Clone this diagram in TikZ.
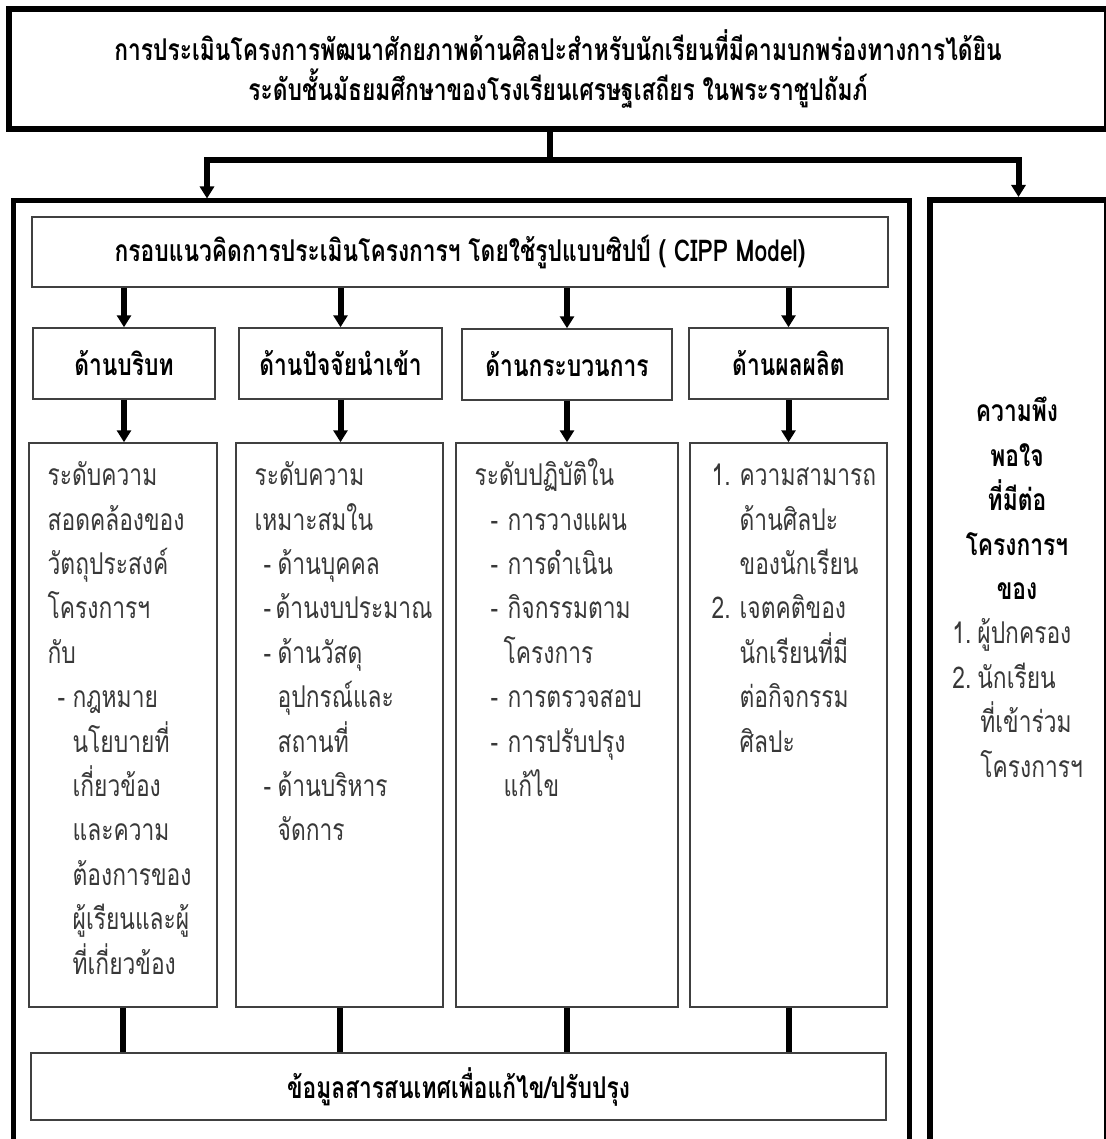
\documentclass[tikz,border=0pt]{standalone}
\usepackage{fontspec}
\setmainfont[Script=Thai, FakeStretch=0.76]{Loma}
\usetikzlibrary{calc,arrows.meta}

\newcommand{\dsh}[2]{\hspace*{#1}\makebox[#2][l]{-}}

\begin{document}
\begin{tikzpicture}[x=0.5pt, y=-0.5pt,
  thickbox/.style={draw, rectangle, inner sep=0pt},
  thinbox/.style={draw=black!75, line width=0.75pt, rectangle, inner sep=0pt, font=\fontsize{15}{20}\selectfont\bfseries},
  bodytxt/.style={font=\fontsize{15}{22.2}\selectfont, text=black!78, align=left, anchor=north west, inner sep=0pt},
  arr/.style={line width=3pt, -{Triangle[width=7pt,length=6pt]}},
  link/.style={line width=3pt}]
			\useasboundingbox (0,0) rectangle (1106,1139);

			\node[thickbox, line width=3pt, minimum width=549pt, minimum height=59.75pt, align=center, font=\fontsize{15}{20}\selectfont\bfseries] (title) at (558,69.25) {การประเมินโครงการพัฒนาศักยภาพด้านศิลปะสำหรับนักเรียนที่มีคามบกพร่องทางการได้ยิน\\ระดับชั้นมัธยมศึกษาของโรงเรียนเศรษฐเสถียร ในพระราชูปถัมภ์};

			\node[thickbox, line width=2.5pt, minimum width=447.75pt, minimum height=480pt] (mainbox) at (461.25,681) {};
			\node[thickbox, line width=3pt, minimum width=88.5pt, minimum height=480.5pt] (rbox) at (1018.5,680.5) {};

			\coordinate (split) at (550,160);
			\coordinate (lfork) at (207,160);

			\node[thinbox, minimum width=428pt, minimum height=35pt] (frame) at (460,252) {กรอบแนวคิดการประเมินโครงการฯ โดยใช้รูปแบบซิปป์ ( CIPP Model)};

			\node[thinbox, minimum width=91pt, minimum height=35.5pt] (h1) at (124,363.5) {ด้านบริบท};
			\node[thinbox, minimum width=101.5pt, minimum height=35.5pt] (h2) at (340.5,363.5) {ด้านปัจจัยนำเข้า};
			\node[thinbox, minimum width=105pt, minimum height=35.5pt] (h3) at (567,364.5) {ด้านกระบวนการ};
			\node[thinbox, minimum width=99.5pt, minimum height=35.5pt] (h4) at (788.5,363.5) {ด้านผลผลิต};

			\node[thinbox, minimum width=94pt, minimum height=282pt] (c1) at (123,725) {};
			\node[thinbox, minimum width=103.5pt, minimum height=282pt] (c2) at (339.5,725) {};
			\node[thinbox, minimum width=111pt, minimum height=282pt] (c3) at (567,725) {};
			\node[thinbox, minimum width=98.5pt, minimum height=282pt] (c4) at (788.5,725) {};

			\node[thinbox, minimum width=427.5pt, minimum height=33.5pt] (info) at (458.5,1086.5) {ข้อมูลสารสนเทศเพื่อแก้ไข/ปรับปรุง};

			% text of the four boxes
			\node[bodytxt] (c1t) at ($(c1.north west)+(19,12)$) {\strut ระดับความ\\สอดคล้องของ\\วัตถุประสงค์\\โครงการฯ\\กับ\\\dsh{5pt}{7.5pt}กฎหมาย\\\hspace*{12.5pt}นโยบายที่\\\hspace*{12.5pt}เกี่ยวข้อง\\\hspace*{12.5pt}และความ\\\hspace*{12.5pt}ต้องการของ\\\hspace*{12.5pt}ผู้เรียนและผู้\\\hspace*{12.5pt}ที่เกี่ยวข้อง};
			\node[bodytxt] (c2t) at ($(c2.north west)+(19,12)$) {\strut ระดับความ\\เหมาะสมใน\\\dsh{4.5pt}{7pt}ด้านบุคคล\\\dsh{4.5pt}{6pt}ด้านงบประมาณ\\\dsh{4.5pt}{7pt}ด้านวัสดุ\\\hspace*{11.5pt}อุปกรณ์และ\\\hspace*{11.5pt}สถานที่\\\dsh{4.5pt}{7pt}ด้านบริหาร\\\hspace*{11.5pt}จัดการ};
			\node[bodytxt] (c3t) at ($(c3.north west)+(19,12)$) {\strut ระดับปฏิบัติใน\\\dsh{8pt}{8.5pt}การวางแผน\\\dsh{8pt}{8.5pt}การดำเนิน\\\dsh{8pt}{8.5pt}กิจกรรมตาม\\\hspace*{14.5pt}โครงการ\\\dsh{8pt}{8.5pt}การตรวจสอบ\\\dsh{8pt}{8.5pt}การปรับปรุง\\\hspace*{14.5pt}แก้ไข};
			\node[bodytxt] (c4t) at ($(c4.north west)+(22,12)$) {\strut\makebox[14pt][l]{1.}ความสามารถ\\\hspace*{14pt}ด้านศิลปะ\\\hspace*{14pt}ของนักเรียน\\\makebox[14pt][l]{2.}เจตคติของ\\\hspace*{14pt}นักเรียนที่มี\\\hspace*{14pt}ต่อกิจกรรม\\\hspace*{14pt}ศิลปะ};

			\node[bodytxt, anchor=north, align=center, text=black, font=\fontsize{15}{22.2}\selectfont\bfseries] (rhead) at ($(rbox.north)+(-1.5,193.5)$) {\strut ความพึง\\พอใจ\\ที่มีต่อ\\โครงการฯ\\ของ};
			\node[bodytxt] (rlist) at ($(rbox.north west)+(25,415.5)$) {\strut\makebox[12.5pt][l]{1.}ผู้ปกครอง\\\makebox[12.5pt][l]{2.}นักเรียน\\\hspace*{14pt}ที่เข้าร่วม\\\hspace*{14pt}โครงการฯ};

			\draw[link] (title.south -| split) -- (split);
			\draw[arr] (split) -| (mainbox.north -| lfork);
			\draw[arr] (split) -| (rbox.north);

			\foreach \i in {1,...,4}{
				\draw[arr] (frame.south -| h\i.south) -- (h\i.north);
				\draw[arr] (h\i.south) -- (c\i.north -| h\i.south);
				\draw[link] (c\i.south) -- (c\i.south |- info.north);
			}

		\end{tikzpicture}
\end{document}
